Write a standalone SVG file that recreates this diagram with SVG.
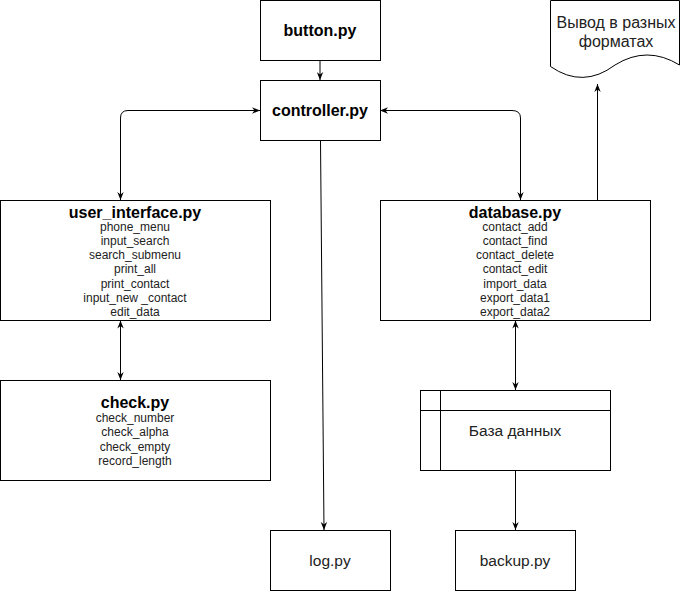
<svg xmlns="http://www.w3.org/2000/svg" width="681" height="591" viewBox="0 0 681 591">
<style>
.box{fill:#fff;stroke:#000;stroke-width:1}
.t{font-family:"Liberation Sans",Arial,sans-serif;text-anchor:middle;fill:#000}
.b{font-weight:bold;font-size:16px}
.s{font-size:12px;fill:#222}
.m{font-size:15.5px;fill:#222}
.c{fill:none;stroke:#000;stroke-width:1}
</style>
<defs>
<marker id="ar" viewBox="0 0 10 8" refX="10" refY="4" markerWidth="8" markerHeight="7" markerUnits="userSpaceOnUse" orient="auto-start-reverse">
<path d="M0,0 L10,4 L0,8 L3,4 z" fill="#000"/>
</marker>
</defs>
<g id="connectors">
<path class="c" d="M320,60.5 V80" marker-end="url(#ar)"/>
<path class="c" d="M260,110.5 H128 Q120.5,110.5 120.5,118 V200" marker-start="url(#ar)" marker-end="url(#ar)"/>
<path class="c" d="M380,110.5 H512 Q520.5,110.5 520.5,118 V200" marker-start="url(#ar)" marker-end="url(#ar)"/>
<path class="c" d="M120.5,320.5 V380" marker-start="url(#ar)" marker-end="url(#ar)"/>
<path class="c" d="M515.5,320.5 V390" marker-start="url(#ar)" marker-end="url(#ar)"/>
<path class="c" d="M515.5,470.5 V530" marker-end="url(#ar)"/>
<path class="c" d="M320.5,140.5 L324,530" marker-end="url(#ar)"/>
<path class="c" d="M597.5,200 V84" marker-end="url(#ar)"/>
</g>
<g id="button">
<rect class="box" x="260.5" y="0.5" width="120" height="60"/>
<text class="t b" x="320" y="36">button.py</text>
</g>
<g id="controller">
<rect class="box" x="260.5" y="80.5" width="120" height="60"/>
<text class="t b" x="320" y="116">controller.py</text>
</g>
<g id="user_interface">
<rect class="box" x="0.5" y="200.5" width="270" height="120"/>
<text class="t b" x="135" y="218">user_interface.py</text>
<text class="t s" x="135" y="230.5">phone_menu</text>
<text class="t s" x="135" y="244.8">input_search</text>
<text class="t s" x="135" y="259.1">search_submenu</text>
<text class="t s" x="135" y="273.4">print_all</text>
<text class="t s" x="135" y="287.7">print_contact</text>
<text class="t s" x="135" y="302">input_new _contact</text>
<text class="t s" x="135" y="316.3">edit_data</text>
</g>
<g id="database">
<rect class="box" x="380.5" y="200.5" width="270" height="120"/>
<text class="t b" x="515" y="218">database.py</text>
<text class="t s" x="515" y="230.5">contact_add</text>
<text class="t s" x="515" y="244.8">contact_find</text>
<text class="t s" x="515" y="259.1">contact_delete</text>
<text class="t s" x="515" y="273.4">contact_edit</text>
<text class="t s" x="515" y="287.7">import_data</text>
<text class="t s" x="515" y="302">export_data1</text>
<text class="t s" x="515" y="316.3">export_data2</text>
</g>
<g id="check">
<rect class="box" x="0.5" y="380.5" width="270" height="100"/>
<text class="t b" x="135" y="408">check.py</text>
<text class="t s" x="135" y="422">check_number</text>
<text class="t s" x="135" y="436.3">check_alpha</text>
<text class="t s" x="135" y="450.6">check_empty</text>
<text class="t s" x="135" y="464.9">record_length</text>
</g>
<g id="log">
<rect class="box" x="270.5" y="530.5" width="120" height="60"/>
<text class="t m" x="330" y="566">log.py</text>
</g>
<g id="backup">
<rect class="box" x="455.5" y="530.5" width="120" height="60"/>
<text class="t m" x="515" y="566">backup.py</text>
</g>
<g id="db_storage">
<rect class="box" x="420.5" y="390.5" width="190" height="80"/>
<path class="c" d="M420.5,410.5 H610.5 M440.5,390.5 V470.5"/>
<text class="t m" x="515" y="436">База данных</text>
</g>
<g id="output_doc">
<path class="box" d="M550.5,0.5 H679.5 V65 Q647,45 615,65 Q583,89 550.5,66.5 Z"/>
<text class="t m" x="616" y="28" style="font-size:16px">Вывод в разных</text>
<text class="t m" x="616" y="46.5" style="font-size:16px">форматах</text>
</g>
</svg>
